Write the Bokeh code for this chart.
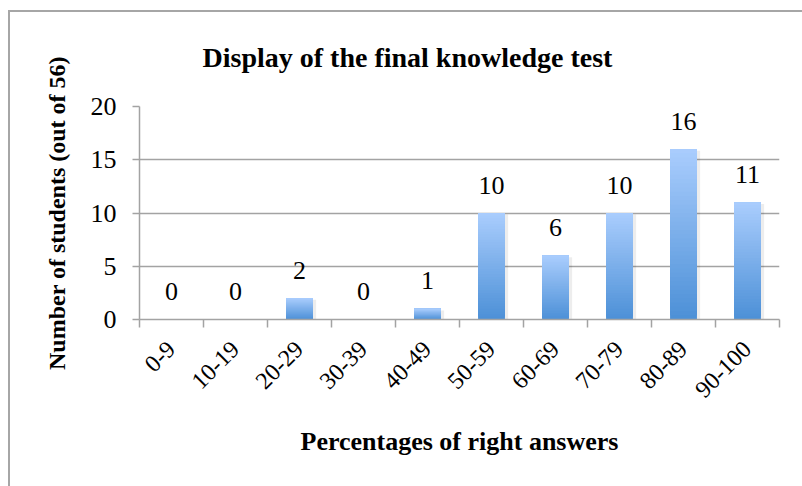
import math
from bokeh.plotting import figure
from bokeh.models import Range1d, FixedTicker, LabelSet, ColumnDataSource, Title
from bokeh.core.properties import value
from bokeh.embed import file_html
from bokeh.resources import INLINE

categories = ["0-9", "10-19", "20-29", "30-39", "40-49", "50-59", "60-69", "70-79", "80-89", "90-100"]
counts = [0, 0, 2, 0, 1, 10, 6, 10, 16, 11]
y_ticks = [0, 5, 10, 15, 20]

title_text = "Display of the final knowledge test"
x_title = "Percentages of right answers"
y_title = "Number of students (out of 56)"

FONT = "Liberation Serif"
GRID = "#a3a3a3"
TOP_RGB = (170, 205, 253)
BOT_RGB = (76, 144, 215)

n = len(categories)
centers = [i + 0.5 for i in range(n)]
bounds = list(range(n + 1))

p = figure(width=792, height=474, frame_width=640, frame_height=213,
           min_border_left=129, min_border_right=23, min_border_top=94, min_border_bottom=167,
           x_range=Range1d(0, n), y_range=Range1d(0, 20),
           output_backend="svg", toolbar_location=None, title=None)
p.styles = {"border-left": "2px solid #a6a6a6", "border-top": "2px solid #a6a6a6",
            "margin-left": "8px", "margin-top": "10px"}
p.outline_line_color = None
p.background_fill_color = "white"
p.border_fill_color = "white"

# gradient bars built from overlapping strips (each from its level up to the bar top)
half_w = 0.21
N = 40
lefts, rights, bots, tops, colors = [], [], [], [], []
shadow = dict(left=[], right=[], top=[], bottom=[])
for c, v in zip(centers, counts):
    if v <= 0:
        continue
    shadow["left"].append(c - half_w + 0.03)
    shadow["right"].append(c + half_w + 0.05)
    shadow["top"].append(v - 0.15)
    shadow["bottom"].append(0)
    for k in range(N):
        t = (k + 0.5) / N
        rgb = tuple(int(round(BOT_RGB[j] + (TOP_RGB[j] - BOT_RGB[j]) * t)) for j in range(3))
        lefts.append(c - half_w)
        rights.append(c + half_w)
        bots.append(v * k / N)
        tops.append(v)
        colors.append("#%02x%02x%02x" % rgb)

p.quad(left="left", right="right", top="top", bottom="bottom",
       source=ColumnDataSource(shadow), fill_color="#000000", fill_alpha=0.07, line_color=None)
p.quad(left=lefts, right=rights, top=tops, bottom=bots, fill_color=colors, line_color=None)

# x axis
p.xaxis.ticker = FixedTicker(ticks=centers, minor_ticks=bounds)
p.xaxis.major_label_overrides = {c: lab for c, lab in zip(centers, categories)}
p.xaxis.major_label_orientation = math.pi / 4
p.xaxis.major_tick_out = 0
p.xaxis.major_tick_in = 0
p.xaxis.minor_tick_out = 8
p.xaxis.minor_tick_in = 0
p.xaxis.minor_tick_line_color = GRID
p.xaxis.minor_tick_line_width = 1.5
p.xaxis.axis_line_color = GRID
p.xaxis.axis_line_width = 1.5
p.xaxis.major_label_text_font = FONT
p.xaxis.major_label_text_font_size = "24px"
p.xaxis.major_label_text_color = "black"
p.xaxis.major_label_standoff = 18
p.xaxis.axis_label = x_title
p.xaxis.axis_label_text_font = FONT
p.xaxis.axis_label_text_font_style = "bold"
p.xaxis.axis_label_text_font_size = "26px"
p.xaxis.axis_label_text_color = "black"
p.xaxis.axis_label_standoff = 20

# y axis
p.yaxis.ticker = FixedTicker(ticks=y_ticks, minor_ticks=[])
p.yaxis.major_tick_out = 7
p.yaxis.major_tick_in = 0
p.yaxis.major_tick_line_color = GRID
p.yaxis.major_tick_line_width = 1.5
p.yaxis.axis_line_color = GRID
p.yaxis.axis_line_width = 1.5
p.yaxis.major_label_text_font = FONT
p.yaxis.major_label_text_font_size = "26px"
p.yaxis.major_label_text_color = "black"
p.yaxis.major_label_standoff = 16
p.yaxis.axis_label = y_title
p.yaxis.axis_label_text_font = FONT
p.yaxis.axis_label_text_font_style = "bold"
p.yaxis.axis_label_text_font_size = "24px"
p.yaxis.axis_label_text_color = "black"
p.yaxis.axis_label_standoff = 18

p.xgrid.grid_line_color = None
p.ygrid.ticker = FixedTicker(ticks=y_ticks)
p.ygrid.grid_line_color = GRID
p.ygrid.grid_line_width = 1.5

# data labels
lab_src = ColumnDataSource(dict(x=centers, y=counts, t=[str(v) for v in counts]))
p.add_layout(LabelSet(x="x", y="y", text="t", source=lab_src, y_offset=28,
                      text_align="center", text_baseline="middle",
                      text_font=value(FONT), text_font_size=value("26px"), text_color="black"))

# invisible spacer between frame and chart title, then the title itself
p.add_layout(Title(text=" ", text_font_size="1px", standoff=31, text_color="white"), "above")
p.add_layout(Title(text=title_text, align="left", offset=63, standoff=0,
                   text_font=FONT, text_font_style="bold", text_font_size="28px",
                   text_color="black"), "above")

open("out.html", "w").write(file_html(p, INLINE))
